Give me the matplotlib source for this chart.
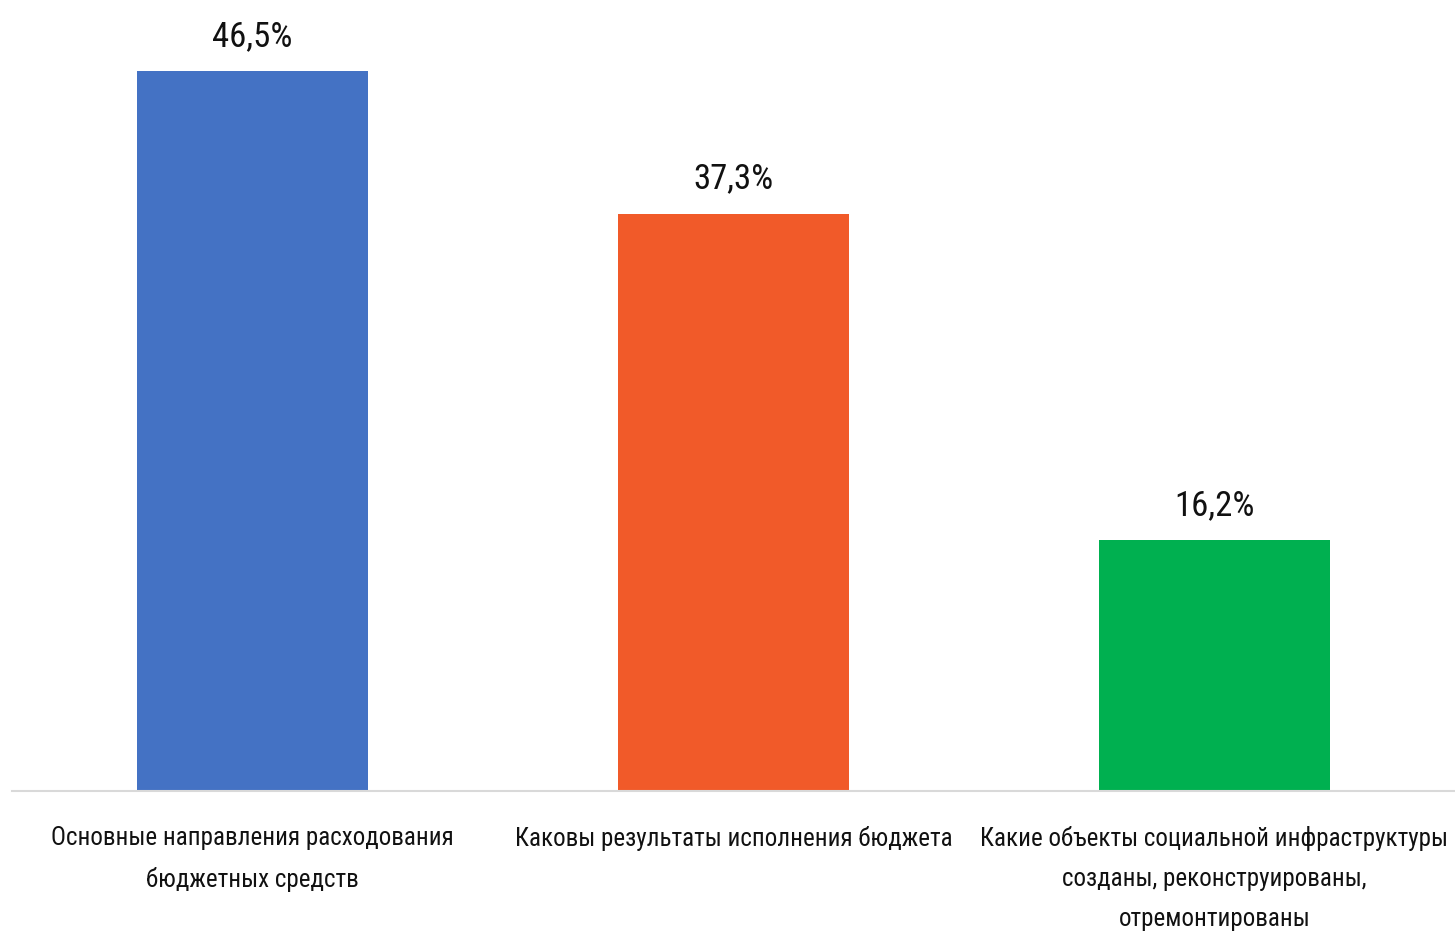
import matplotlib
matplotlib.use("Agg")
from matplotlib import pyplot as plt
from matplotlib import font_manager

# данные
categories = ['Основные направления расходования\nбюджетных средств',
              'Каковы результаты исполнения бюджета',
              'Какие объекты социальной инфраструктуры\nсозданы, реконструированы,\nотремонтированы']
values = [46.5, 37.3, 16.2]
value_labels = ['46,5%', '37,3%', '16,2%']
colors = ['#4472C4', '#F15A29', '#00B050']

names = set(f.name for f in font_manager.fontManager.ttflist)
fam = [n for n in ['Roboto Condensed', 'Liberation Sans Narrow', 'DejaVu Sans Condensed', 'Liberation Sans'] if n in names]
plt.rcParams['font.family'] = fam + ['DejaVu Sans']
narrow = fam and fam[0] != 'Liberation Sans'

fig = plt.figure(figsize=(14.55, 9.42), dpi=100)
ax = fig.add_axes([12/1455, 151/942, 1 - 12/1455, 1 - 17/942 - 151/942])

x = range(len(values))
ax.bar(x, values, width=0.48, color=colors)
ax.set_xlim(-0.5, 2.5)
ax.set_ylim(0, 50)

for i, v in enumerate(values):
    ax.annotate(value_labels[i], (i, v), xytext=(0, 13), textcoords='offset points',
                ha='center', va='bottom', fontsize=25 if narrow else 21, color='#111111')

ax.set_xticks(list(x))
ax.set_xticklabels(categories, fontsize=18 if narrow else 15, color='#111111', linespacing=1.85)
ax.tick_params(axis='x', length=0, pad=25)
ax.set_yticks([])
for s in ['top', 'right', 'left']:
    ax.spines[s].set_visible(False)
ax.spines['bottom'].set_color('#D9D9D9')
ax.spines['bottom'].set_linewidth(1.5)

fig.savefig('out.png', dpi=100)
